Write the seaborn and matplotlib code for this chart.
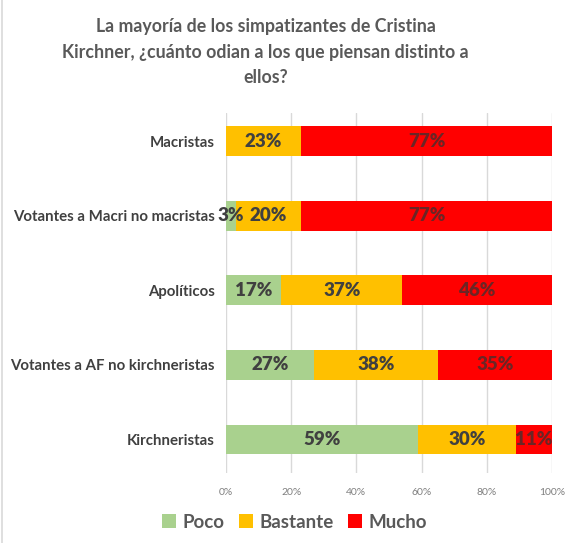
import matplotlib
matplotlib.use("Agg")
import matplotlib.pyplot as plt
import seaborn as sns
import pandas as pd
import numpy as np
from matplotlib.patches import Rectangle, Patch

categories = ["Macristas", "Votantes a Macri no macristas", "Apolíticos",
              "Votantes a AF no kirchneristas", "Kirchneristas"]
poco = [0, 3, 17, 27, 59]
bastante = [23, 20, 37, 38, 30]
mucho = [77, 77, 46, 35, 11]
series_names = ["Poco", "Bastante", "Mucho"]
colors = ["#A9D18E", "#FFC000", "#FF0000"]
xticks = [0, 20, 40, 60, 80, 100]

sns.set_style("white")
plt.rcParams["font.family"] = ["Lato", "DejaVu Sans"]

fig = plt.figure(figsize=(5.75, 5.43), dpi=100)
ax = fig.add_axes([226/575, 1-473/543, (552-226)/575, (473-113)/543])

df = pd.DataFrame({"cat": categories, "Poco": poco, "Bastante": bastante, "Mucho": mucho})
df["c1"] = df["Poco"]
df["c2"] = df["Poco"] + df["Bastante"]
df["c3"] = df["c2"] + df["Mucho"]

for col, color in zip(["c3", "c2", "c1"], colors[::-1]):
    sns.barplot(data=df, y="cat", x=col, orient="h", color=color, width=0.4,
                saturation=1, ax=ax, zorder=3, linewidth=0)

# labels
for i in range(len(categories)):
    starts = [0, poco[i], poco[i] + bastante[i]]
    vals = [poco[i], bastante[i], mucho[i]]
    for s, v, name in zip(starts, vals, series_names):
        if v <= 0:
            continue
        tc = "#404040" if name != "Mucho" else "#6b2525"
        ax.text(s + v / 2, i, f"{v}%", ha="center", va="center",
                fontsize=13.5, fontweight="heavy", color=tc, zorder=5)

ax.set_xlim(0, 100)
ax.set_ylim(4.45, -0.38)
ax.set_xticks(xticks)
ax.set_xticklabels([f"{t}%" for t in xticks], fontsize=7.5, color="#7f7f7f")
ax.xaxis.grid(True, color="#d9d9d9", linewidth=1, zorder=0)
ax.set_axisbelow(True)
ax.tick_params(axis="x", length=0, pad=11)
ax.tick_params(axis="y", length=0, pad=8)
for lab in ax.get_yticklabels():
    lab.set_fontsize(10.8)
    lab.set_fontweight("bold")
    lab.set_color("#404040")
ax.set_xlabel("")
ax.set_ylabel("")
for s in ax.spines.values():
    s.set_visible(False)

fig.text(0.462, 0.904, "La mayoría de los simpatizantes de Cristina\nKirchner, ¿cuánto odian a los que piensan distinto a\nellos?",
         ha="center", va="center", fontsize=12.8, fontweight="bold", color="#595959",
         linespacing=1.62)

handles = [Patch(facecolor=c, edgecolor="none") for c in colors]
fig.legend(handles, series_names, loc="center", bbox_to_anchor=(0.512, 0.038),
           ncol=3, frameon=False, handlelength=0.75, handleheight=0.75,
           handletextpad=0.35, columnspacing=0.75,
           prop={"weight": "bold", "size": 13.5})
for t in fig.legends[0].get_texts():
    t.set_color("#595959")

fig.patches.append(Rectangle((0.004, -0.01), 1.2, 1.2, transform=fig.transFigure,
                             fill=False, edgecolor="#d9d9d9", linewidth=1.2))

fig.savefig("out.png", dpi=100)
